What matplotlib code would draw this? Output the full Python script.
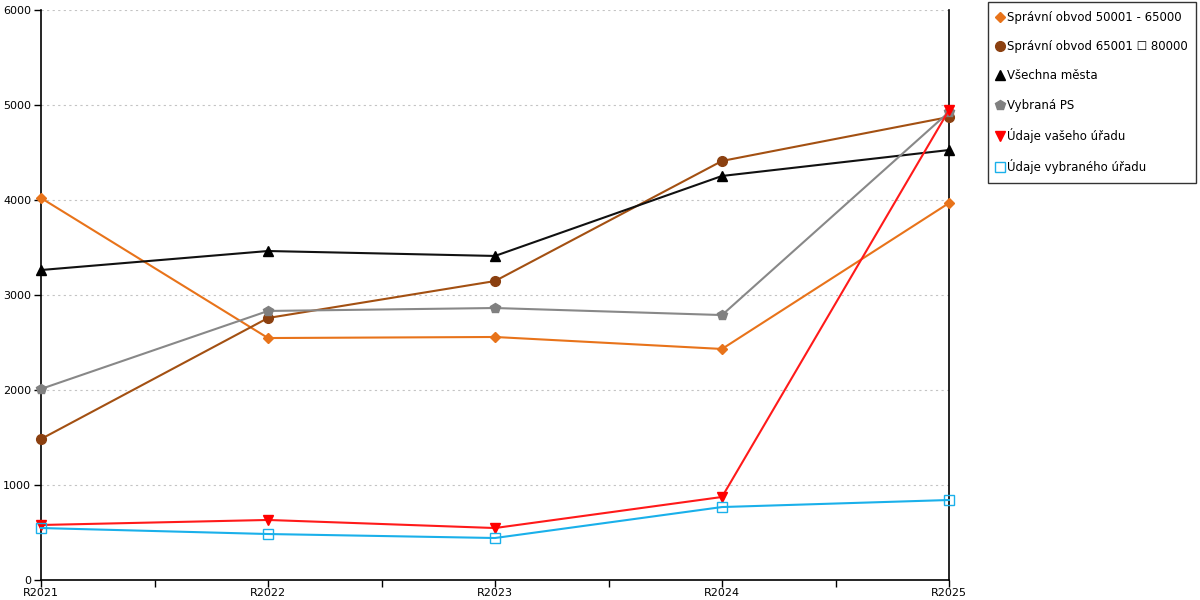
import matplotlib.pyplot as plt
from matplotlib.lines import Line2D

years = ["R2021", "R2022", "R2023", "R2024", "R2025"]

obvod_50_65 = [4021, 2547, 2558, 2432, 3968]
obvod_65_80 = [1484, 2758, 3147, 4411, 4874]
vsechna_mesta = [3263, 3463, 3411, 4253, 4526]
vybrana_ps = [2011, 2832, 2863, 2789, 4926]
vas_urad = [579, 632, 547, 874, 4947]
vybrany_urad = [547, 484, 442, 768, 842]

series = [
    ("Správní obvod 50001 - 65000", obvod_50_65, "#e8731a", "D", "#e8731a", 5),
    ("Správní obvod 65001 ☐ 80000", obvod_65_80, "#a35012", "o", "#8b4010", 7),
    ("Všechna města", vsechna_mesta, "#111111", "^", "#000000", 7),
    ("Vybraná PS", vybrana_ps, "#888888", "p", "#808080", 7),
    ("Údaje vašeho úřadu", vas_urad, "#ff1a1a", "v", "#ff0000", 7.5),
    ("Údaje vybraného úřadu", vybrany_urad, "#1ab0ea", "s", "none", 6.5),
]

plt.rcParams['font.family'] = ['DejaVu Sans']

fig = plt.figure(figsize=(12, 6), dpi=100)
ax = fig.add_axes([41 / 1200, 20 / 600, 908 / 1200, 570 / 600])

x = list(range(len(years)))
handles = []
for label, vals, col, mk, face, ms in series:
    edge = "#1ab0ea" if face == "none" else face
    ax.plot(x, vals, color=col, lw=1.5, marker=mk, markersize=ms,
            markerfacecolor=face, markeredgecolor=edge,
            markeredgewidth=1.0, zorder=3, clip_on=False)
    handles.append(Line2D([], [], ls="none", marker=mk, markersize=ms,
                          markerfacecolor=face, markeredgecolor=edge,
                          label=label))

ax.set_xlim(0, 4)
ax.set_ylim(0, 6000)
ax.set_yticks(range(0, 6001, 1000))
ax.set_xticks(x)
ax.set_xticklabels(years)
ax.set_xticks([0.5, 1.5, 2.5, 3.5], minor=True)
ax.tick_params(axis="x", which="both", length=5, width=1, direction="out", labelsize=8, pad=1)
ax.tick_params(axis="y", length=5, width=1, direction="out", labelsize=8, pad=2)
ax.grid(axis="y", color="#c4c4c4", ls=(0, (2, 3)), lw=0.8)
ax.set_axisbelow(True)
ax.spines["top"].set_visible(False)
for s in ["left", "bottom", "right"]:
    ax.spines[s].set_color("black")
    ax.spines[s].set_linewidth(1.2)

leg = fig.legend(handles=handles, loc="upper left", bbox_to_anchor=(988 / 1200, 598 / 600),
                 frameon=True, fancybox=False, fontsize=8.5, labelspacing=1.38,
                 handlelength=0.6, handletextpad=0.25, borderpad=0.75, borderaxespad=0)
leg.get_frame().set_edgecolor("black")
leg.get_frame().set_linewidth(1.0)

fig.savefig("out.png", dpi=100)
